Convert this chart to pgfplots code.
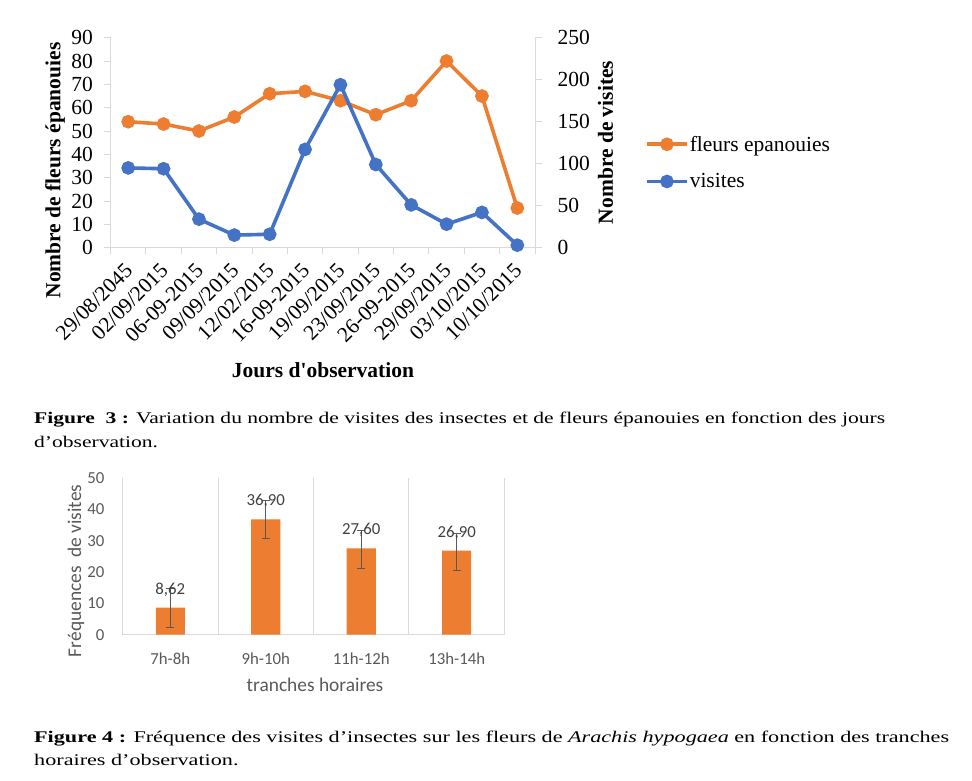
\documentclass[border=0pt]{standalone}
\usepackage{fontspec}
\setmainfont{Liberation Serif}
\newfontfamily\calibri{Carlito}
\usepackage{graphicx}
\usepackage{pgfplots}
\usepackage{pgfplotstable}
\pgfplotsset{compat=1.18}

\definecolor{xlorange}{HTML}{ED7D31}
\definecolor{xlblue}{HTML}{4472C4}
\definecolor{xlaxis}{HTML}{D9D9D9}
\definecolor{xltext}{HTML}{595959}
\definecolor{xllabel}{HTML}{404040}

% Figure 3: flowers in bloom (left axis) and insect visits (right axis)
\pgfplotstableread{
idx fleurs visites
0  54  95
1  53  94
2  50  34
3  56  15
4  66  16
5  67  117
6  63  194
7  57  99
8  63  51
9  80  28
10 65  42
11 17  3
}\jours

% Figure 4: visit frequency per time slot, with error bars
\pgfplotstableread{
idx freq ep  em
0   8.62 6.3 6.3
1   36.9 5.9 6.1
2   27.6 5.7 6.3
3   26.9 5.6 6.2
}\freq

\newcommand\bigserif{\fontsize{21.5}{24}\selectfont}
\newcommand\capfont{\fontsize{16.3}{19}\selectfont}
\newcommand\calsmall{\calibri\fontsize{16.8}{20}\selectfont}
\newcommand\calbig{\calibri\fontsize{19.4}{22}\selectfont}

\newcommand\capAone{\capfont\textbf{Figure\ \ 3 :} Variation du nombre de visites des insectes et de fleurs épanouies en fonction des jours}
\newcommand\capBone{\capfont\textbf{Figure 4 :} Fréquence des visites d’insectes sur les fleurs de \textit{Arachis hypogaea} en fonction des tranches}

\newlength\capwA
\newlength\capwB

\begin{document}
\settowidth\capwA{\capAone}%
\settowidth\capwB{\capBone}%
\pgfmathsetmacro\sxA{851pt/\capwA}%
\pgfmathsetmacro\sxB{915pt/\capwB}%
\begin{tikzpicture}[x=1pt,y=1pt]
\path[use as bounding box] (0,0) rectangle (972,-781);

% ---------------- Figure 3 ----------------
\begin{axis}[
  at={(110.5pt,-247.7pt)}, anchor=south west,
  scale only axis, width=424.5pt, height=210pt,
  xmin=-0.5, xmax=11.5, ymin=0, ymax=90,
  axis x line*=bottom, axis y line*=left,
  axis line style={xlaxis, line width=1pt},
  every tick/.style={xlaxis, line width=1pt},
  tick align=outside,
  major tick length=6.5pt,
  ytick={0,10,...,90},
  xtick={-0.5,0.5,1.5,2.5,3.5,4.5,5.5,6.5,7.5,8.5,9.5,10.5,11.5},
  xticklabels={},
  extra x ticks={0,1,2,3,4,5,6,7,8,9,10,11},
  extra x tick labels={29/08/2045, 02/09/2015, 06-09-2015, 09/09/2015, 12/02/2015, 16-09-2015, 19/09/2015, 23/09/2015, 26-09-2015, 29/09/2015, 03/10/2015, 10/10/2015},
  extra x tick style={major tick length=0pt},
  xticklabel style={font=\bigserif, xshift=0.7pt, yshift=-19.3pt, rotate=45, anchor=east, inner sep=0pt},
  yticklabel style={font=\bigserif, inner sep=0pt, xshift=-11pt},
  /pgf/number format/assume math mode=true,
  clip=false,
]
\addplot[xlorange, line width=3.6pt, mark=*, mark size=5pt, mark options={solid, fill=xlorange}]
  table[x=idx, y=fleurs]{\jours};
\end{axis}

\begin{axis}[
  at={(110.5pt,-247.7pt)}, anchor=south west,
  scale only axis, width=424.5pt, height=210pt,
  xmin=-0.5, xmax=11.5, ymin=0, ymax=250,
  axis x line=none, axis y line*=right,
  axis line style={xlaxis, line width=1pt},
  every tick/.style={xlaxis, line width=1pt},
  tick align=outside,
  major tick length=6.5pt,
  ytick={0,50,...,250},
  yticklabel style={font=\bigserif, inner sep=0pt, xshift=16pt},
  /pgf/number format/assume math mode=true,
  clip=false,
  legend style={at={(1.259,0.405)}, anchor=west, draw=none, fill=none,
    font=\bigserif, inner sep=0pt, row sep=19pt,
    nodes={inner sep=1pt}},
  legend cell align=left,
  legend image code/.code={%
    \draw[#1, mark repeat=2, mark phase=2] plot coordinates {(0pt,0pt) (20pt,0pt) (40pt,0pt)};},
]
\addlegendimage{xlorange, line width=3.6pt, mark=*, mark size=5pt, mark options={solid, fill=xlorange}}
\addlegendentry{fleurs epanouies}
\addplot[xlblue, line width=3.6pt, mark=*, mark size=5pt, mark options={solid, fill=xlblue}]
  table[x=idx, y=visites]{\jours};
\addlegendentry{visites}
\end{axis}

\node[rotate=90, font=\bigserif\bfseries] at (55,-170.5) {Nombre de fleurs épanouies};
\node[rotate=90, font=\bigserif\bfseries] at (605.5,-142.5) {Nombre de visites};
\node[font=\bigserif\bfseries] at (323,-370) {Jours d\textquotesingle observation};

% caption of Figure 3
\node[anchor=base west, inner sep=0pt] at (34,-423.3) {\scalebox{\sxA}[1]{\capAone}};
\node[anchor=base west, inner sep=0pt] at (34,-447.5) {\scalebox{\sxA}[1]{\capfont d’observation.}};

% ---------------- Figure 4 ----------------
\begin{axis}[
  at={(122.5pt,-634.7pt)}, anchor=south west,
  scale only axis, width=382pt, height=156.4pt,
  xmin=-0.5, xmax=3.5, ymin=0, ymax=50,
  ybar, bar width=29pt,
  axis x line*=bottom, axis y line*=left,
  x axis line style={xlaxis, line width=1pt},
  y axis line style={draw=none},
  major tick length=0pt, minor tick length=0pt,
  xtick={0,1,2,3},
  xticklabels={7h-8h, 9h-10h, 11h-12h, 13h-14h},
  minor xtick={-0.5,0.5,1.5,2.5,3.5},
  xminorgrids, minor x grid style={xlaxis, line width=1pt},
  ytick={0,10,...,50},
  xticklabel style={font=\calsmall, text=xltext, yshift=-15pt},
  yticklabel style={font=\calsmall, text=xltext, inner sep=0pt, xshift=-18pt},
  /pgf/number format/assume math mode=true,
  nodes near coords={\pgfmathprintnumber[fixed, fixed zerofill, precision=2, use comma, assume math mode=true]{\pgfplotspointmeta}},
  nodes near coords style={font=\calsmall, text=xllabel, anchor=center, yshift=18pt},
  clip=false,
]
\addplot[fill=xlorange, draw=none,
  error bars/.cd, y dir=both, y explicit,
  error bar style={xltext, line width=0.9pt},
  error mark options={rotate=90, xltext, mark size=4pt, line width=0.9pt}]
  table[x=idx, y=freq, y error plus=ep, y error minus=em]{\freq};
\end{axis}

\node[rotate=90, font=\calbig, text=xltext] at (76,-570.8) {Fréquences\ \ de visites};
\node[anchor=base, font=\calbig, text=xltext] at (315,-691) {tranches horaires};

% caption of Figure 4
\node[anchor=base west, inner sep=0pt] at (34,-742.5) {\scalebox{\sxB}[1]{\capBone}};
\node[anchor=base west, inner sep=0pt] at (34,-765.5) {\scalebox{\sxB}[1]{\capfont horaires d’observation.}};
\end{tikzpicture}
\end{document}
